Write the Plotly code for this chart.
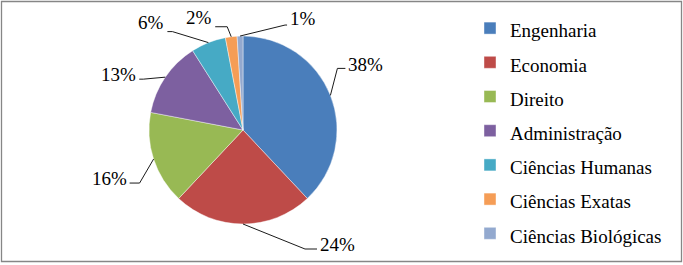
import math
import plotly.graph_objects as go

# ---- data ----
categories = ["Engenharia", "Economia", "Direito", "Administração",
              "Ciências Humanas", "Ciências Exatas", "Ciências Biológicas"]
values = [38, 24, 16, 13, 6, 2, 1]
pct_labels = ["38%", "24%", "16%", "13%", "6%", "2%", "1%"]

# ---- styles ----
colors = ["#4A7EBB", "#BE4B48", "#98B954", "#7D60A0", "#46AAC5", "#F59D56", "#93A9CF"]
# leader-line style per label: (elbow dx, elbow dy, horizontal length, text dy) in px
leader_style = [(7, -27, 8, -4), (62, 25, 12, -5), (-14, 24, -10, -5),
                (-22, 2, -4, -5), (-36, -11, -5, -9), (-4, -10, -12, -9),
                (45, -11, 2, -7)]

W, H = 683, 265
CX, CY, R = 243, 130, 94
FONT = "'Liberation Serif', 'Times New Roman', Times, 'DejaVu Serif', serif"


def px(x):
    return x / W


def py(y):
    return 1 - y / H


fig = go.Figure()
fig.add_trace(go.Pie(
    labels=[f'<span style="font-size:19px">{c}</span>' for c in categories],
    values=values,
    sort=False,
    direction="clockwise",
    rotation=0,
    textinfo="none",
    hoverinfo="label+percent",
    marker=dict(colors=colors, line=dict(color="rgba(255,255,255,0.7)", width=0.6)),
    domain=dict(x=[px(CX - R), px(CX + R)], y=[py(CY + R), py(CY - R)]),
))

total = sum(values)
shapes = []
annotations = []
cum = 0
for v, lab, (dx, dy, hl, tdy) in zip(values, pct_labels, leader_style):
    mid = (cum + v / 2) / total * 2 * math.pi
    cum += v
    x0 = CX + R * math.sin(mid)
    y0 = CY - R * math.cos(mid)
    x1, y1 = x0 + dx, y0 + dy
    x2 = x1 + hl
    path = f"M {px(x0)},{py(y0)} L {px(x1)},{py(y1)} L {px(x2)},{py(y1)}"
    shapes.append(dict(type="path", path=path, xref="paper", yref="paper",
                       line=dict(color="#1a1a1a", width=1)))
    right = hl > 0
    annotations.append(dict(
        x=px(x2 + (1 if right else -1)), y=py(y1 + tdy), xref="paper", yref="paper",
        text=lab, showarrow=False, xanchor="left" if right else "right",
        yanchor="middle", font=dict(family=FONT, size=19, color="#000000")))

# chart border
shapes.append(dict(type="rect", xref="paper", yref="paper",
                   x0=px(1.5), x1=px(681.5), y0=py(261.5), y1=py(1.5),
                   line=dict(color="#868686", width=1.3)))

fig.update_layout(
    width=W, height=H,
    margin=dict(l=0, r=0, t=0, b=0),
    paper_bgcolor="white", plot_bgcolor="white",
    font=dict(family=FONT, color="#000000"),
    shapes=shapes, annotations=annotations,
    showlegend=True,
    legend=dict(x=px(470), y=py(6), xanchor="left", yanchor="top",
                font=dict(family=FONT, size=24, color="#000000"),
                bgcolor="rgba(0,0,0,0)", traceorder="normal"),
)

fig.write_html("out.html", config={"displayModeBar": False},
               post_script="document.body.style.margin='0px';")
